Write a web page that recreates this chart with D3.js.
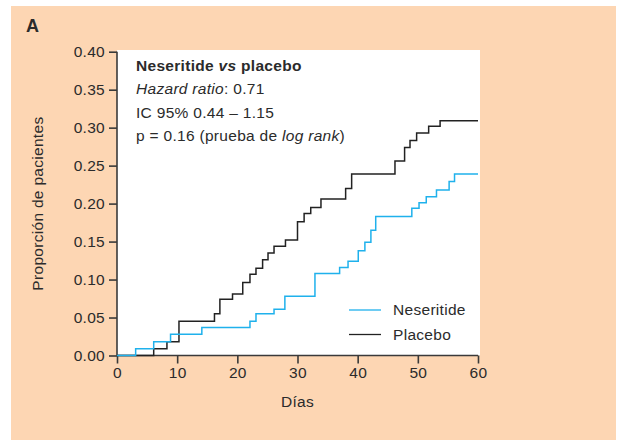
<!DOCTYPE html>
<html>
<head>
<meta charset="utf-8">
<script src="https://cdn.jsdelivr.net/npm/d3@7"></script>
<style>
  body { margin: 0; background: #fff; }
  svg text { font-family: "Liberation Sans", Arial, sans-serif; fill: #2b2b2b; letter-spacing: 0.3px; }
</style>
</head>
<body>
<div id="chart"></div>
<script>
// Kaplan-Meier style steps (days, proportion)
var neseritideDays = [3.1, 6.1, 8.9, 14.1, 22.1, 23.1, 26.1, 27.9, 32.9, 37.0, 38.4, 40.1, 41.2, 42.2, 43.0, 49.0, 50.2, 51.4, 53.1, 55.2, 56.1];
var neseritideVals = [0.009, 0.018, 0.028, 0.037, 0.045, 0.055, 0.061, 0.078, 0.108, 0.116, 0.124, 0.138, 0.149, 0.165, 0.183, 0.194, 0.201, 0.209, 0.218, 0.229, 0.239];
var placeboDays = [6.1, 8.3, 10.3, 16.2, 17.1, 19.2, 20.9, 22.1, 23.1, 24.2, 25.1, 26.1, 28.0, 30.0, 31.1, 32.2, 33.9, 38.0, 39.0, 46.2, 47.8, 48.7, 49.8, 51.8, 53.7];
var placeboVals = [0.009, 0.018, 0.045, 0.055, 0.074, 0.081, 0.096, 0.107, 0.115, 0.126, 0.135, 0.144, 0.152, 0.176, 0.187, 0.195, 0.206, 0.220, 0.239, 0.256, 0.274, 0.283, 0.293, 0.302, 0.309];
var xTicks = [0, 10, 20, 30, 40, 50, 60];
var yTicks = [0, 0.05, 0.10, 0.15, 0.20, 0.25, 0.30, 0.35, 0.40];
var seriesNames = ["Neseritide", "Placebo"];
var seriesColors = ["#1fb1ec", "#222222"];

var svgWidth = 618, svgHeight = 440;
var plotLeft = 117, plotRight = 478, plotTop = 51.7, plotBottom = 355.5;
var fontSize = "15.5px";

var svg = d3.select("#chart").append("svg")
    .attr("width", svgWidth)
    .attr("height", svgHeight);

// peach panel
svg.append("rect")
    .attr("x", 11).attr("y", 6)
    .attr("width", 605).attr("height", 434)
    .attr("fill", "#fdd6b3");

// white plot area
svg.append("rect")
    .attr("x", plotLeft).attr("y", 50)
    .attr("width", 480 - plotLeft).attr("height", plotBottom - 50)
    .attr("fill", "#ffffff");

svg.append("text")
    .attr("x", 26).attr("y", 32)
    .style("font-size", "18px")
    .style("font-weight", "bold")
    .text("A");

var xScale = d3.scaleLinear().domain([0, 60]).range([plotLeft, plotRight]);
var yScale = d3.scaleLinear().domain([0, 0.40]).range([plotBottom, plotTop]);

var xAxis = d3.axisBottom(xScale).tickValues(xTicks).tickSize(8).tickPadding(3).tickFormat(d3.format("d"));
var yAxis = d3.axisLeft(yScale).tickValues(yTicks).tickSize(8).tickPadding(4).tickFormat(d3.format(".2f"));

var gx = svg.append("g")
    .attr("transform", "translate(0," + plotBottom + ")")
    .call(xAxis);
var gy = svg.append("g")
    .attr("transform", "translate(" + plotLeft + ",0)")
    .call(yAxis);

[gx, gy].forEach(function(g) {
    g.select(".domain").attr("stroke", "#3a3a3a").attr("stroke-width", 1.6);
    g.selectAll(".tick line").attr("stroke", "#3a3a3a").attr("stroke-width", 1.6);
    g.selectAll(".tick text")
        .style("font-size", fontSize)
        .style("font-family", "Liberation Sans, Arial, sans-serif")
        .attr("fill", "#2b2b2b");
});
gy.select(".domain").attr("d", "M0," + plotBottom + "V" + plotTop);
gx.select(".domain").attr("d", "M" + plotLeft + ",0H" + plotRight);

svg.append("text")
    .attr("transform", "translate(43," + ((plotTop + plotBottom) / 2) + ") rotate(-90)")
    .attr("text-anchor", "middle")
    .style("font-size", fontSize)
    .text("Proporción de pacientes");

svg.append("text")
    .attr("x", (plotLeft + plotRight) / 2).attr("y", 407)
    .attr("text-anchor", "middle")
    .style("font-size", fontSize)
    .text("Días");

// step curves
function stepPoints(days, vals) {
    var pts = [[0, 0]];
    for (var i = 0; i < days.length; i++) pts.push([days[i], vals[i]]);
    pts.push([60, vals[vals.length - 1]]);
    return pts;
}

var line = d3.line()
    .x(function(d) { return xScale(d[0]); })
    .y(function(d) { return yScale(d[1]); })
    .curve(d3.curveStepAfter);

svg.append("path")
    .datum(stepPoints(placeboDays, placeboVals))
    .attr("d", line)
    .attr("fill", "none")
    .attr("stroke", seriesColors[1])
    .attr("stroke-width", 1.5);

svg.append("path")
    .datum(stepPoints(neseritideDays, neseritideVals))
    .attr("d", line)
    .attr("fill", "none")
    .attr("stroke", seriesColors[0])
    .attr("stroke-width", 1.5);

// stats text
var stats = svg.append("g").style("font-size", fontSize);
stats.append("text").attr("x", 136).attr("y", 70.5)
    .style("font-weight", "bold")
    .html('Neseritide <tspan font-style="italic">vs</tspan> placebo');
stats.append("text").attr("x", 136).attr("y", 94)
    .html('<tspan font-style="italic">Hazard ratio</tspan>: 0.71');
stats.append("text").attr("x", 136).attr("y", 117.5)
    .text("IC 95% 0.44 – 1.15");
stats.append("text").attr("x", 136).attr("y", 141)
    .html('p = 0.16 (prueba de <tspan font-style="italic">log rank</tspan>)');

// legend
var legend = svg.append("g");
seriesNames.forEach(function(name, i) {
    var y = 310 + i * 24.5;
    legend.append("line")
        .attr("x1", 349).attr("x2", 381)
        .attr("y1", y).attr("y2", y)
        .attr("stroke", seriesColors[i])
        .attr("stroke-width", 1.3);
    legend.append("text")
        .attr("x", 393).attr("y", y + 5)
        .style("font-size", fontSize)
        .text(name);
});
</script>
</body>
</html>
